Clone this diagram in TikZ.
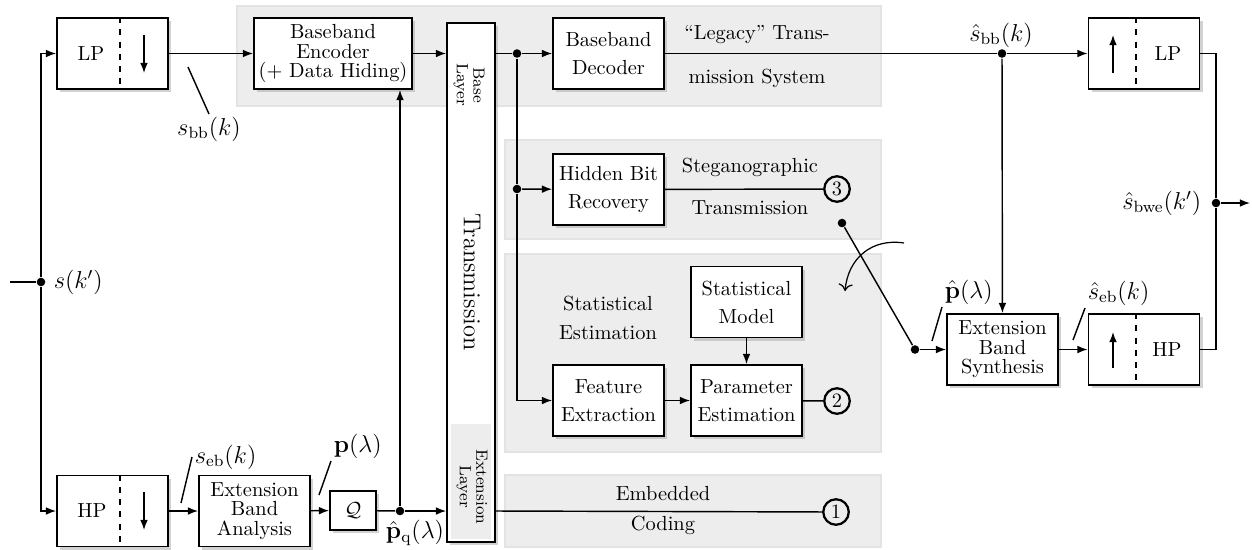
\documentclass[tikz,border=0pt]{standalone}
\usetikzlibrary{shadows,arrows.meta}

\tikzset{
  box/.style={draw, line width=0.9pt, fill=white, minimum width=54.4pt, minimum height=34.8pt,
    align=center, inner sep=1pt, font=\linespread{1.14}\selectfont,
    drop shadow={shadow xshift=1.6pt, shadow yshift=-1.6pt, fill=black!35}},
  box3/.style={box, font=\linespread{0.8}\selectfont},
  region/.style={fill=black!7, draw=black!11, line width=1pt},
  dot/.style={circle, fill, inner sep=0pt, minimum size=4.2pt},
  port/.style={circle, draw, line width=1.1pt, inner sep=0pt, minimum size=12.5pt},
  sig/.style={font=\large, inner sep=1pt},
}

\begin{document}
\begin{tikzpicture}[x=0.4902pt, y=-0.4902pt, >={Latex[length=5pt,width=3.8pt]}, line width=0.7pt]
    \useasboundingbox (0,0) rectangle (1252,549);

    % grey groups
    \draw[region] (237,6) rectangle (881,106);
    \draw[region] (505,140) rectangle (881,239);
    \draw[region] (505,254) rectangle (881,452);
    \draw[region] (505,475) rectangle (881,547);

    % transmission column
    \node[box, minimum width=23.5pt, minimum height=254.4pt] (col) at (471,282.5) {};
    \fill[black!7] (451,424) rectangle (491,539);
    \node[rotate=-90, font=\large] (trans) at (472,282) {Transmission};
    \node[rotate=-90, align=center, font=\footnotesize\linespread{0.85}\selectfont] (base) at (469,85) {Base\\Layer};
    \node[rotate=-90, align=center, font=\footnotesize\linespread{0.85}\selectfont] (ext) at (472,487) {Extension\\Layer};

    % encoder side
    \node[box] (lpa) at (112.5,53.5) {};
    \node (lpat) at (91,53.5) {LP};
    \draw[dashed] (lpa.north) ++(7.5,0) -- ++(0,71);
    \draw[->] (144,35) -- (144,73);
    \node[box] (hpa) at (112.5,511) {};
    \node (hpat) at (92,511) {HP};
    \draw[dashed] (hpa.north) ++(7.5,0) -- ++(0,71);
    \draw[->] (144,492) -- (144,530);
    \node[box3, minimum width=77.5pt] (enc) at (333,53.5) {Baseband\\Encoder\\(+ Data Hiding)};
    \node[box3] (eba) at (254.5,511) {Extension\\Band\\Analysis};
    \node[box, minimum width=22.5pt, minimum height=19.1pt] (q) at (353,510.5) {$\mathcal{Q}$};

    % receiver side
    \node[box] (dec) at (608.5,53.5) {Baseband\\Decoder};
    \node[box] (hbr) at (608.5,189.5) {Hidden Bit\\Recovery};
    \node[box] (sm) at (746.5,302) {Statistical\\Model};
    \node[box] (fe) at (608.5,400.5) {Feature\\Extraction};
    \node[box] (pe) at (746.5,400.5) {Parameter\\Estimation};
    \node[box3] (ebs) at (1002.5,349.5) {Extension\\Band\\Synthesis};
    \node[box] (lpu) at (1144,53.5) {};
    \node (lput) at (1168,53.5) {LP};
    \draw[dashed] (lpu.north) ++(-8,0) -- ++(0,71);
    \draw[->] (1113,73) -- (1113,35);
    \node[box] (hpu) at (1144,349.5) {};
    \node (hput) at (1167,349.5) {HP};
    \draw[dashed] (hpu.north) ++(-8,0) -- ++(0,71);
    \draw[->] (1113,368) -- (1113,332);

    \node[port] (c3) at (837,189) {3};
    \node[port] (c2) at (837,401) {2};
    \node[port] (c1) at (836,512) {1};

    % texts in the groups
    \node (leg1) at (757,35) {``Legacy'' Trans-};
    \node (leg2) at (757,78) {mission System};
    \node (steg1) at (750,167) {Steganographic};
    \node (steg2) at (750,208) {Transmission};
    \node[align=center, font=\linespread{1.2}\selectfont] (stat) at (608,318) {Statistical\\Estimation};
    \node (emb1) at (663,494) {Embedded};
    \node (emb2) at (663,525) {Coding};

    % junctions
    \coordinate (in) at (10,282);
    \node[dot] (sj) at (41,282) {};
    \node[dot] (qj) at (400,511) {};
    \node[dot] (dj) at (517,53.5) {};
    \node[dot] (hj) at (517,189) {};
    \node[dot] (oj) at (1002,53.5) {};
    \node[dot] (rj) at (1216,203) {};
    \coordinate (out) at (1250,203);
    \node[dot] (sw) at (915,349.5) {};
    \node[dot] (swt) at (842,223) {};

    % connectors
    \draw (in) -- (sj);
    \draw[->] (sj) |- (lpa);
    \draw[->] (sj) |- (hpa);
    \draw[->] (lpa) -- (enc);
    \draw[->] (hpa) -- (eba);
    \draw[->] (eba) -- (q);
    \draw (q) -- (qj);
    \draw[->] (qj) -- (qj -| col.west);
    \draw[->] (qj) -- (qj |- enc.south);
    \draw[->] (enc) -- (enc -| col.west);
    \draw (dj -| col.east) -- (dj);
    \draw[->] (dj) -- (dec);
    \draw (dj) -- (hj);
    \draw[->] (hj) -- (hbr);
    \draw[->] (hj) |- (fe);
    \draw (hbr) -- (c3);
    \draw[->] (sm) -- (pe);
    \draw[->] (fe) -- (pe);
    \draw (pe) -- (c2);
    \draw (qj -| col.east) -- (c1);
    \draw (dec) -- (oj);
    \draw[->] (oj) -- (lpu);
    \draw[->] (oj) -- (ebs);
    \draw[->] (sw) -- (ebs);
    \draw (sw) -- (swt);
    \draw[->] (ebs) -- (hpu);
    \draw (lpu) -| (rj);
    \draw (hpu) -| (rj);
    \draw[->] (rj) -- (out);

    % switch
    \coordinate (ca) at (904,243);
    \coordinate (cb) at (845,291);
    \draw[-{To[length=3.5pt,width=7pt]}, line width=0.6pt] (ca) .. controls (872,238) and (848,258) .. (cb);

    % signal labels
    \node[sig, anchor=west] (sk) at (51,282) {$s(k')$};
    \coordinate (sbbt) at (188,67);
    \node[sig, anchor=north] (sbb) at (209,114) {$s_{\mathrm{bb}}(k)$};
    \draw (sbbt) -- (sbb.north);
    \coordinate (sebt) at (181,503);
    \node[sig, anchor=west] (seb) at (192,457) {$s_{\mathrm{eb}}(k)$};
    \draw (sebt) -- (seb.west);
    \coordinate (pt) at (319,495);
    \node[sig, anchor=south west] (p) at (331,461) {$\mathbf{p}(\lambda)$};
    \draw (pt) -- (p.south west);
    \node[sig] (pq) at (415,533) {$\hat{\mathbf{p}}_{\mathrm{q}}(\lambda)$};
    \node[sig, anchor=south] (sbbh) at (1001,50) {$\hat{s}_{\mathrm{bb}}(k)$};
    \node[sig, anchor=east] (sbwe) at (1204,203) {$\hat{s}_{\mathrm{bwe}}(k')$};
    \coordinate (pht) at (932,341);
    \node[sig, anchor=south west] (ph) at (942,307) {$\hat{\mathbf{p}}(\lambda)$};
    \draw (pht) -- (ph.south west);
    \coordinate (sebht) at (1073,340);
    \node[sig, anchor=south west] (sebh) at (1085,308) {$\hat{s}_{\mathrm{eb}}(k)$};
    \draw (sebht) -- (sebh.south west);
\end{tikzpicture}
\end{document}
